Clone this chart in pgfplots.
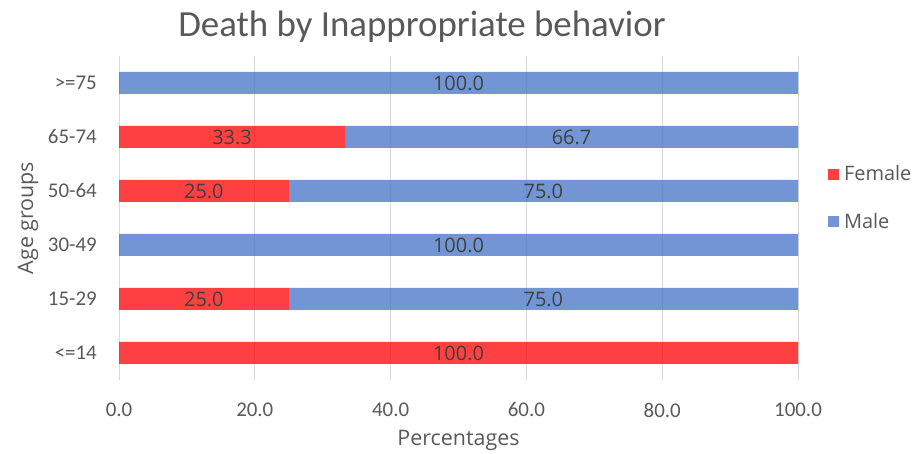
\documentclass[border=0pt]{standalone}
\usepackage{pgfplots}
\pgfplotsset{compat=1.18}
\usepackage{pgfplotstable}
\usepackage{fontspec}
\setmainfont{Carlito}
\newfontfamily\uifont{Open Sans}

\definecolor{txt}{RGB}{89,89,89}
\definecolor{lbl}{RGB}{64,64,64}
\definecolor{femred}{RGB}{255,0,0}
\definecolor{maleblue}{RGB}{68,114,196}
\definecolor{gridgray}{RGB}{217,217,217}

% Share of deaths by sex in each age group (percent)
\pgfplotstableread{
idx f    m
0   100  0
1   25   75
2   0    100
3   25   75
4   33.3 66.7
5   0    100
}\deaths

\pgfplotsset{
  frame/.style={
    at={(119bp,74bp)}, anchor=south west,
    scale only axis, width=679bp, height=324bp,
    xmin=0, xmax=100, ymin=-0.5, ymax=5.5,
  },
  seglabel/.style={
    only marks, mark=none, point meta=explicit,
    nodes near coords={\pgfmathprintnumber[fixed,fixed zerofill,precision=1]{\pgfplotspointmeta}},
    every node near coord/.append style={anchor=center, inner sep=0pt, text=lbl,
      font=\uifont\fontsize{20}{24}\selectfont},
  },
}

\begin{document}
\begin{tikzpicture}
\useasboundingbox (0,0) rectangle (917bp,454bp);
\node[text=txt, font=\fontsize{37}{44}\selectfont] at (422bp,427bp) {Death by Inappropriate behavior};
\begin{axis}[
  frame,
  xbar stacked, bar width=22bp,
  xtick={0,20,...,100}, ytick={0,...,5},
  yticklabels={<=14,15-29,30-49,50-64,65-74,>=75},
  /pgf/number format/assume math mode=true,
  xticklabel={\pgfmathprintnumber[fixed,fixed zerofill,precision=1]{\tick}},
  xticklabel style={anchor=center, yshift=-30bp, inner sep=0pt},
  yticklabel style={anchor=east, xshift=-22bp, inner sep=0pt},
  ticklabel style={text=txt, font=\fontsize{21}{25}\selectfont},
  major tick length=0pt,
  axis line style={draw=none},
  xmajorgrids, grid style={gridgray, line width=1bp},
  xlabel={Percentages}, ylabel={Age groups},
  every axis x label/.style={at={(axis description cs:0.5,-0.187)}, anchor=center},
  every axis y label/.style={at={(axis description cs:-0.134,0.5)}, rotate=90, anchor=center},
  label style={text=txt, font=\uifont\fontsize{21.5}{25}\selectfont},
  legend style={at={(axis description cs:1.044,0.562)}, anchor=west, draw=none, fill=none,
    row sep=27bp, text=txt, font=\uifont\fontsize{20}{24}\selectfont, inner sep=0pt,
    nodes={inner xsep=5bp}},
  legend cell align=left,
  legend image code/.code={\fill[#1] (0bp,-5.5bp) rectangle (11bp,5.5bp);},
]
\addplot[draw=none, fill=femred, fill opacity=0.75] table[x=f, y=idx] {\deaths};
\addlegendentry{Female}
\addplot[draw=none, fill=maleblue, fill opacity=0.75] table[x=m, y=idx] {\deaths};
\addlegendentry{Male}
\end{axis}
% value labels, centred on each segment
\begin{axis}[frame, hide axis, /pgf/number format/assume math mode=true]
\addplot[seglabel] table[x expr={\thisrow{f}>0 ? \thisrow{f}/2 : nan}, y=idx, meta=f] {\deaths};
\addplot[seglabel] table[x expr={\thisrow{m}>0 ? \thisrow{f}+\thisrow{m}/2 : nan}, y=idx, meta=m] {\deaths};
\end{axis}
\end{tikzpicture}
\end{document}
